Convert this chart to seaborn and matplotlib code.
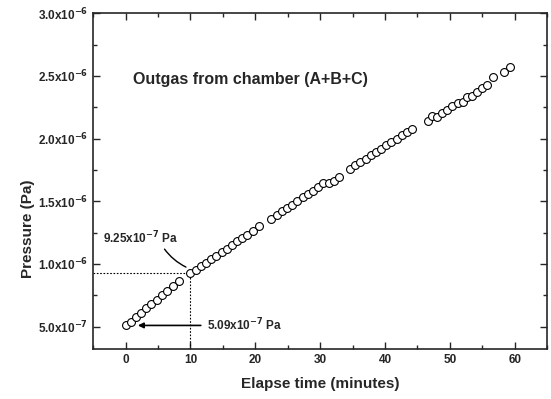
import pandas as pd
import seaborn as sns
import matplotlib.pyplot as plt
from matplotlib.ticker import MultipleLocator, FixedLocator

# -------------------------------------------------
# DATA
# -------------------------------------------------

time_min = [
    0.0, 0.8, 1.6, 2.4, 3.2, 4.0, 4.8, 5.6, 6.4, 7.3, 8.3,
    10.0, 10.8, 11.6, 12.4, 13.2, 14.0, 14.8, 15.6, 16.4, 17.2, 18.0, 18.8, 19.6, 20.6,
    22.5, 23.3, 24.1, 24.9, 25.7, 26.5, 27.3, 28.1, 28.9, 29.7, 30.5, 31.3, 32.1, 32.9,
    34.6, 35.4, 36.2, 37.0, 37.8, 38.6, 39.4, 40.2, 41.0, 41.8, 42.6, 43.4, 44.2,
    46.6, 47.3, 48.0, 48.8, 49.6, 50.4, 51.2, 52.0, 52.7, 53.4, 54.2, 55.0, 55.8, 56.6,
    58.3, 59.2,
]

pressure_e6 = [
    0.509, 0.54, 0.575, 0.61, 0.645, 0.68, 0.715, 0.75, 0.785, 0.82, 0.86,
    0.925, 0.955, 0.98, 1.01, 1.04, 1.065, 1.095, 1.12, 1.15, 1.18, 1.205, 1.23, 1.26, 1.30,
    1.36, 1.39, 1.42, 1.445, 1.47, 1.50, 1.53, 1.555, 1.58, 1.61, 1.645, 1.645, 1.665, 1.69,
    1.76, 1.785, 1.81, 1.84, 1.865, 1.89, 1.92, 1.945, 1.97, 2.00, 2.025, 2.05, 2.075,
    2.14, 2.18, 2.17, 2.20, 2.23, 2.26, 2.28, 2.29, 2.33, 2.34, 2.37, 2.40, 2.43, 2.49,
    2.53, 2.57,
]

y_ticks = [5.0e-7, 1.0e-6, 1.5e-6, 2.0e-6, 2.5e-6, 3.0e-6]
y_tick_labels = [r"5.0x10$^{-7}$", r"1.0x10$^{-6}$", r"1.5x10$^{-6}$",
                 r"2.0x10$^{-6}$", r"2.5x10$^{-6}$", r"3.0x10$^{-6}$"]
x_ticks = [0, 10, 20, 30, 40, 50, 60]

mark_t = 10
mark_p = 9.25e-7
start_p = 5.09e-7

df = pd.DataFrame({
    "time": time_min,
    "pressure": [p * 1e-6 for p in pressure_e6],
})

# -------------------------------------------------
# PLOT
# -------------------------------------------------

sns.set_style("ticks")
plt.rcParams["font.family"] = ["Liberation Sans", "DejaVu Sans"]
plt.rcParams["mathtext.default"] = "bf"

fig = plt.figure(figsize=(5.51, 3.99), dpi=100)
ax = fig.add_axes([0.169, 0.125, 0.824, 0.842])

sns.scatterplot(
    data=df, x="time", y="pressure", ax=ax,
    marker="o", s=32, facecolor="white", edgecolor="black", linewidth=0.8,
    zorder=3,
)

ax.set_xlim(-5, 65)
ax.set_ylim(3.2e-7, 3.0e-6)

ax.xaxis.set_major_locator(FixedLocator(x_ticks))
ax.xaxis.set_minor_locator(MultipleLocator(5))
ax.yaxis.set_major_locator(FixedLocator(y_ticks))
ax.yaxis.set_minor_locator(MultipleLocator(2.5e-7))
ax.set_yticklabels(y_tick_labels)
ax.set_xticklabels([str(v) for v in x_ticks])

ax.tick_params(which="both", direction="in", top=True, right=True, width=1.0)
ax.tick_params(which="major", length=5)
ax.tick_params(which="minor", length=3)
ax.tick_params(axis="both", labelsize=8.5)
for lab in ax.get_xticklabels() + ax.get_yticklabels():
    lab.set_fontweight("bold")
for s in ax.spines.values():
    s.set_linewidth(1.2)

ax.set_xlabel("Elapse time (minutes)", fontsize=11, fontweight="bold", labelpad=8)
ax.set_ylabel("Pressure (Pa)", fontsize=11, fontweight="bold")
ax.yaxis.set_label_coords(-0.128, 0.357)

# dotted guide lines at t = 10 min
ax.plot([-5, mark_t], [mark_p, mark_p], ls=(0, (1.5, 1.5)), color="black", lw=0.8, zorder=2)
ax.plot([mark_t, mark_t], [3.2e-7, mark_p], ls=(0, (1.5, 1.5)), color="black", lw=0.8, zorder=2)

ax.text(1.1, 2.47e-6, "Outgas from chamber (A+B+C)", fontsize=11.5,
        fontweight="bold", va="center", ha="left")

ax.annotate(r"9.25x10$^{-7}$ Pa", xy=(mark_t - 0.3, mark_p + 0.04e-6),
            xytext=(-3.4, 1.21e-6), fontsize=8.5, fontweight="bold",
            va="center", ha="left",
            arrowprops=dict(arrowstyle="-", color="black", lw=1.0,
                            connectionstyle="arc3,rad=0.15",
                            shrinkA=0, shrinkB=2,
                            relpos=(0.78, 0.0)))

ax.annotate("", xy=(1.9, start_p), xytext=(11.6, start_p),
            arrowprops=dict(arrowstyle="-|>", color="black", lw=1.2,
                            mutation_scale=8, shrinkA=0, shrinkB=0))
ax.text(12.5, start_p, r"5.09x10$^{-7}$ Pa", fontsize=8.5, fontweight="bold",
        va="center", ha="left")

fig.savefig("out.png", dpi=100)
